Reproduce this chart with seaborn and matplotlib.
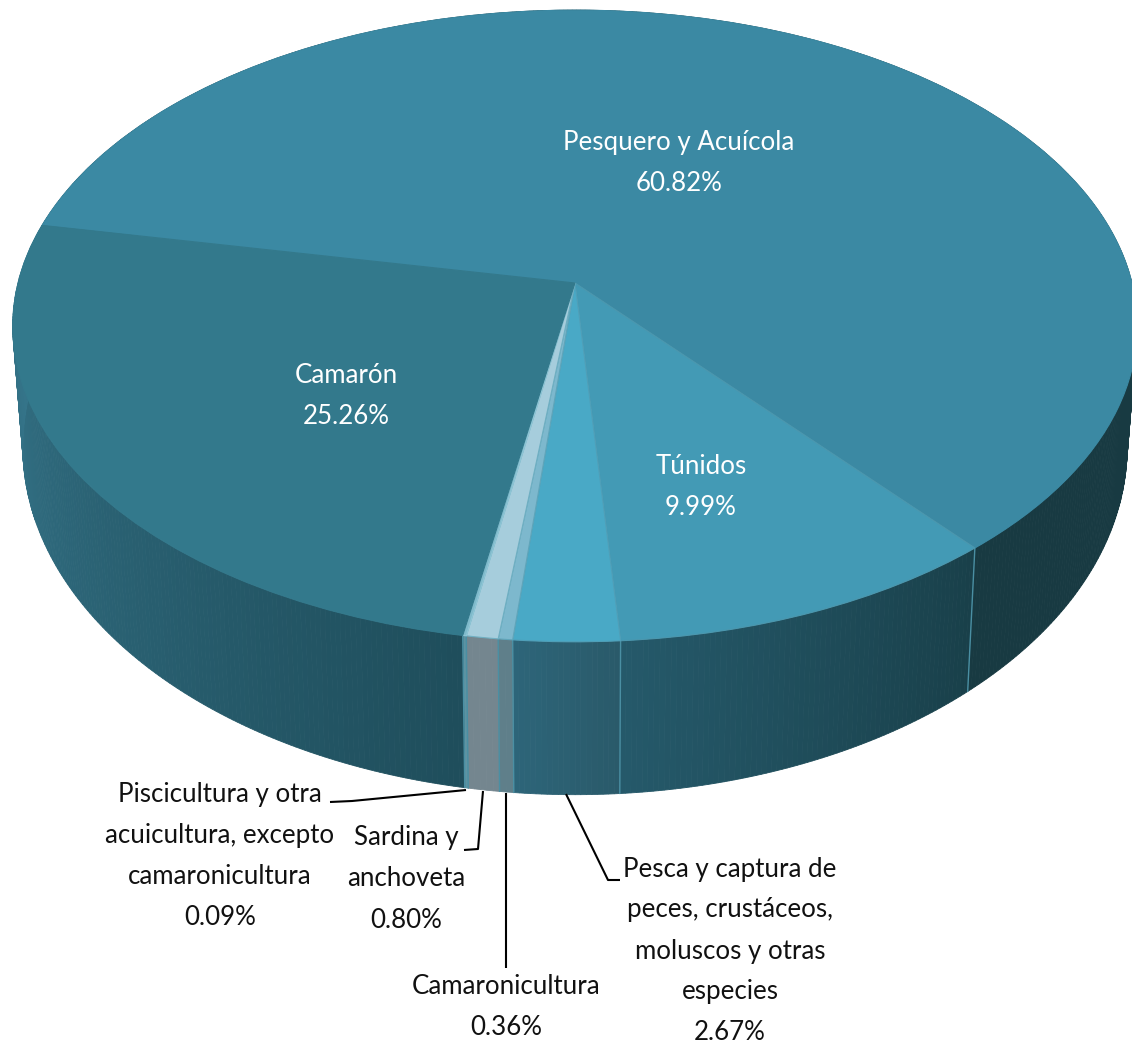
import numpy as np
import matplotlib
matplotlib.use("Agg")
import matplotlib.pyplot as plt
import matplotlib.transforms as mtransforms
import seaborn as sns

categories = ["Pesquero y Acuícola", "Túnidos",
              "Pesca y captura de\npeces, crustáceos,\nmoluscos y otras\nespecies",
              "Camaronicultura", "Sardina y\nanchoveta",
              "Piscicultura y otra\nacuicultura, excepto\ncamaronicultura", "Camarón"]
values = [60.82, 9.99, 2.67, 0.36, 0.80, 0.09, 25.26]

top_colors = ["#3B89A3", "#439AB5", "#49A9C6", "#7DB8CD", "#A6CDDC", "#7FBACB", "#33798C"]
edge_colors = ["#3B89A3", "#4B97AE", "#4F9FB8", "#5FA5BA", "#6FAFC2", "#8FC6D6", "#33798C"]
# wall shading, clockwise start -> end of each slice
wall_colors = [("#183A42", "#183A42"), ("#19404A", "#25596A"), ("#2A5A6A", "#2D6579"),
               ("#5F7F8A", "#5F7F8A"), ("#74868F", "#74868F"), ("#5C93A2", "#5C93A2"),
               ("#1F4E5C", "#387A90")]

label_pos = [(679, 163), (701, 487), (730, 951), (506, 1007), (406, 879), (220, 856), (346, 396)]
label_color = ["white", "white", "#111111", "#111111", "#111111", "#111111", "white"]

# perspective of the disc, in picture pixels
K = 0.136
X0, Y0, A, B = 575, 283, 557, 310
X0B, Y0B, AB, BB = 575, 400, 547, 341


class Tilt(mtransforms.Transform):
    input_dims = 2
    output_dims = 2

    def __init__(self, x0, y0, a, b):
        super().__init__()
        self.p = (x0, y0, a, b)

    def transform_non_affine(self, values):
        x0, y0, a, b = self.p
        w = 1 + K * values[:, 1]
        return np.column_stack([x0 + a * values[:, 0] / w, y0 - b * values[:, 1] / w])


sns.set_theme(style="white")
plt.rcParams["font.family"] = ["Lato", "DejaVu Sans"]

fig = plt.figure(figsize=(11.32, 10.46), dpi=100)
ax = fig.add_axes([0, 0, 1, 1])

top = Tilt(X0, Y0, A, B)
bottom = Tilt(X0B, Y0B, AB, BB)

wedges, _ = ax.pie(values, startangle=169.0, counterclock=False, radius=1, colors=top_colors,
                   wedgeprops={"linewidth": 0.8})
ax.set_aspect("auto")
ax.set_xlim(0, 1132)
ax.set_ylim(1046, 0)
ax.axis("off")

for w, ec, (c1, c2) in zip(wedges, edge_colors, wall_colors):
    w.set_transform(top + ax.transData)
    w.set_zorder(3)
    w.set_edgecolor(ec)
    w.set_clip_on(False)

    # outer wall: thin strips between the top rim and the bottom rim
    n = max(int((w.theta2 - w.theta1) * 2), 2)
    th = np.radians(np.linspace(w.theta2, w.theta1, n + 1))
    rim = np.column_stack([np.cos(th), np.sin(th)])
    up = top.transform(rim)
    dn = bottom.transform(rim)
    pal = sns.blend_palette([c1, c2], n)
    for i in range(n):
        poly = np.vstack([up[i], up[i + 1], dn[i + 1], dn[i]])
        ax.fill(poly[:, 0], poly[:, 1], color=pal[i], lw=0.6, zorder=2, clip_on=False)
    if rim[0, 1] < -0.3:
        ax.plot([up[0, 0], dn[0, 0]], [up[0, 1], dn[0, 1]], color="#4A8FA3", lw=1, zorder=2.5)

for name, val, (x, y), col in zip(categories, values, label_pos, label_color):
    ax.text(x, y, f"{name}\n{val:.2f}%", color=col, fontsize=18.6, ha="center", va="center",
            linespacing=1.8, zorder=5)

leaders = [([330, 352, 466], [802, 801, 790]),
           ([483, 478, 464], [791, 849, 850]),
           ([506, 506], [793, 968]),
           ([566, 608, 620], [794, 880, 880])]
for lx, ly in leaders:
    ax.plot(lx, ly, color="black", lw=1.5, zorder=4, solid_capstyle="butt")

fig.savefig("out.png", dpi=100, facecolor="white")
